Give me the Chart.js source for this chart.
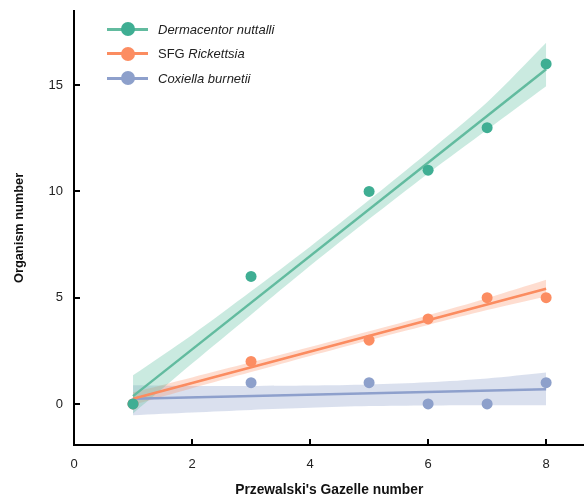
<!DOCTYPE html>
<html>
<head>
<meta charset="utf-8">
<script src="https://cdn.jsdelivr.net/npm/chart.js@4/dist/chart.umd.min.js"></script>
<style>
    html, body { margin: 0; padding: 0; background: #fff; }
    #wrap { position: relative; width: 584px; height: 498px; overflow: hidden; }
    #legend { position: absolute; left: 107px; top: 17px; font-family: 'Liberation Sans', Arial, sans-serif; font-size: 13px; color: #222; }
    .item { display: flex; align-items: center; height: 24.5px; }
    .sym { position: relative; width: 41px; height: 14px; margin-right: 10px; }
    .sym .ln { position: absolute; left: 0; right: 0; top: 5.5px; height: 3px; }
    .sym .dot { position: absolute; left: 14px; top: 0; width: 14px; height: 14px; border-radius: 50%; }
</style>
</head>
<body>
<div id="wrap">
    <canvas id="gazelleChart" width="590" height="498"></canvas>
    <div id="legend"></div>
</div>
<script>
// observed counts
const gazelleX = [1, 3, 5, 6, 7, 8];
const dermacentor = [0, 6, 10, 11, 13, 16];
const rickettsia = [0, 2, 3, 4, 5, 5];
const coxiella = [0, 1, 1, 0, 0, 1];

// fitted lines (ends)
const fitX = [1, 8];
const dermacentorFit = [0.37, 15.75];
const rickettsiaFit = [0.25, 5.42];
const coxiellaFit = [0.25, 0.69];

// confidence bands, read at x = 1..8
const bandX = [1, 2, 3, 4, 5, 6, 7, 8];
const dermacentorHi = [1.35, 3.25, 5.3, 7.4, 9.6, 11.85, 14.2, 17.0];
const dermacentorLo = [-0.45, 1.9, 4.2, 6.5, 8.7, 10.85, 12.9, 14.95];
const rickettsiaHi = [0.55, 1.25, 1.96, 2.68, 3.42, 4.18, 4.98, 5.84];
const rickettsiaLo = [-0.05, 0.74, 1.5, 2.26, 3.0, 3.72, 4.42, 5.06];
const coxiellaHi = [0.88, 0.85, 0.85, 0.87, 0.92, 1.02, 1.2, 1.48];
const coxiellaLo = [-0.53, -0.4, -0.28, -0.18, -0.1, -0.07, -0.06, -0.06];

const xTicks = [0, 2, 4, 6, 8];
const yTicks = [0, 5, 10, 15];

const series = [
    { name: '<i>Dermacentor nuttalli</i>', y: dermacentor, fit: dermacentorFit, hi: dermacentorHi, lo: dermacentorLo,
      dot: '#3fae93', line: '#62bb9f', band: 'rgba(102, 194, 165, 0.35)' },
    { name: 'SFG <i>Rickettsia</i>', y: rickettsia, fit: rickettsiaFit, hi: rickettsiaHi, lo: rickettsiaLo,
      dot: '#fc8d62', line: '#fb8c60', band: 'rgba(252, 141, 98, 0.3)' },
    { name: '<i>Coxiella burnetii</i>', y: coxiella, fit: coxiellaFit, hi: coxiellaHi, lo: coxiellaLo,
      dot: '#8da0cb', line: '#8ea0cc', band: 'rgba(141, 160, 203, 0.32)' }
];

const pts = (xs, ys) => xs.map((x, i) => ({ x, y: ys[i] }));

const datasets = [];
series.forEach((s) => {
    datasets.push({ type: 'scatter', data: pts(gazelleX, s.y), backgroundColor: s.dot, borderWidth: 0, pointRadius: 5.5, order: 0 });
});
series.forEach((s) => {
    datasets.push({ type: 'line', data: pts(fitX, s.fit), borderColor: s.line, borderWidth: 2.5, pointRadius: 0, fill: false, order: 1 });
});
series.forEach((s) => {
    const loIdx = datasets.length + 1;
    datasets.push({ type: 'line', data: pts(bandX, s.hi), borderWidth: 0, pointRadius: 0, tension: 0.3,
        backgroundColor: s.band, fill: { target: loIdx }, order: 2 });
    datasets.push({ type: 'line', data: pts(bandX, s.lo), borderWidth: 0, pointRadius: 0, tension: 0.3, fill: false, order: 2 });
});

// tick marks pointing into the plot
const innerTicks = {
    id: 'innerTicks',
    afterDraw(chart) {
        const { ctx, scales: { x, y } } = chart;
        ctx.save();
        ctx.strokeStyle = '#000';
        ctx.lineWidth = 2;
        ctx.beginPath();
        xTicks.filter((v) => v > 0).forEach((v) => {
            const px = Math.round(x.getPixelForValue(v));
            ctx.moveTo(px, y.bottom);
            ctx.lineTo(px, y.bottom - 6);
        });
        yTicks.forEach((v) => {
            const py = Math.round(y.getPixelForValue(v));
            ctx.moveTo(x.left, py);
            ctx.lineTo(x.left + 6, py);
        });
        ctx.stroke();
        ctx.restore();
    }
};

const font = { family: "'Liberation Sans', Arial, sans-serif", size: 13 };

new Chart(document.getElementById('gazelleChart'), {
    data: { datasets },
    options: {
        responsive: false,
        animation: false,
        layout: { padding: { top: 3, right: 0, left: 0, bottom: 0 } },
        plugins: { legend: { display: false }, tooltip: { enabled: false } },
        scales: {
            x: {
                type: 'linear', min: 0, max: 8.65,
                afterBuildTicks: (scale) => { scale.ticks = xTicks.map((v) => ({ value: v })); },
                afterFit: (scale) => { scale.height = 53; },
                grid: { display: false },
                border: { display: true, color: '#000', width: 2 },
                ticks: { color: '#222', font, padding: 4 },
                title: { display: true, text: "Przewalski's Gazelle number", color: '#111',
                    font: { family: font.family, size: 13.8, weight: 'bold' }, padding: { top: 0, bottom: 0 } }
            },
            y: {
                type: 'linear', min: -1.93, max: 18.5,
                afterBuildTicks: (scale) => { scale.ticks = yTicks.map((v) => ({ value: v })); },
                afterFit: (scale) => { scale.width = 74; },
                grid: { display: false },
                border: { display: true, color: '#000', width: 2 },
                ticks: { color: '#222', font, padding: 3 },
                title: { display: true, text: 'Organism number', color: '#111',
                    font: { family: font.family, size: 12.8, weight: 'bold' }, padding: { top: 12, bottom: 0 } }
            }
        }
    },
    plugins: [innerTicks]
});

document.getElementById('legend').innerHTML = series.map((s) => `
    <div class="item">
        <span class="sym"><span class="ln" style="background:${s.line}"></span><span class="dot" style="background:${s.dot}"></span></span>
        <span>${s.name}</span>
    </div>`).join('');
</script>
</body>
</html>
